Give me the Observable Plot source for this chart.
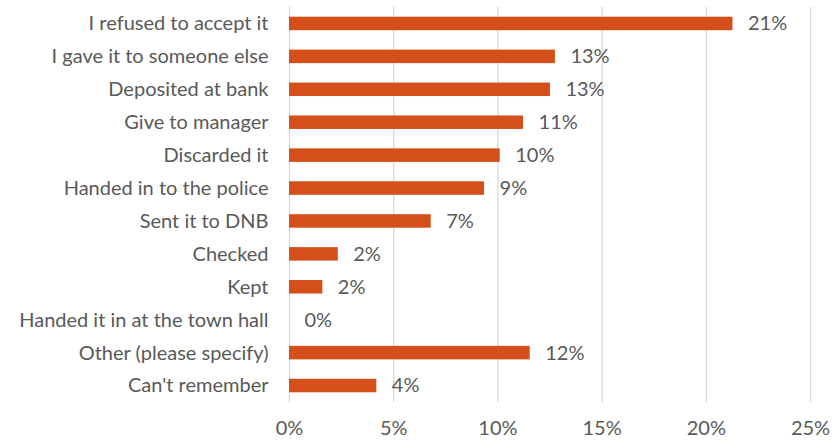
<!DOCTYPE html>
<html>
<head>
<meta charset="utf-8">
<script src="https://cdn.jsdelivr.net/npm/d3@7"></script>
<script src="https://cdn.jsdelivr.net/npm/@observablehq/plot@0.6"></script>
<style>
  html, body { margin: 0; padding: 0; background: #fff; }
</style>
</head>
<body>
<div id="chart"></div>
<script>
// Responses: what people did with the note
const categories = [
  "I refused to accept it",
  "I gave it to someone else",
  "Deposited at bank",
  "Give to manager",
  "Discarded it",
  "Handed in to the police",
  "Sent it to DNB",
  "Checked",
  "Kept",
  "Handed it in at the town hall",
  "Other (please specify)",
  "Can't remember"
];
const shares = [0.2128, 0.1276, 0.1252, 0.1123, 0.1011, 0.0936, 0.0680, 0.0234, 0.0160, 0.0, 0.1155, 0.0419];
const xTicks = [0, 0.05, 0.10, 0.15, 0.20, 0.25];

const data = categories.map((c, i) => ({category: c, share: shares[i]}));
const pct = d3.format(".0%");

const textColor = "#595959";
const barColor = "#d44f1a";
const fontSize = 20;

const chart = Plot.plot({
  width: 833,
  height: 441,
  marginLeft: 289,
  marginRight: 23,
  marginTop: 7,
  marginBottom: 39,
  style: {fontFamily: "Lato", fontSize: fontSize + "px", color: textColor, background: "#fff"},
  x: {domain: [0, 0.25], ticks: xTicks, tickFormat: pct, label: null},
  y: {domain: categories, paddingInner: 0.59, paddingOuter: 0.295, round: false, label: null},
  marks: [
    Plot.gridX(xTicks, {stroke: "#d9d9d9", strokeOpacity: 1, strokeWidth: 1.3}),
    Plot.axisX(xTicks, {tickSize: 0, tickPadding: 18, tickFormat: pct, fontSize, label: null}),
    Plot.axisY({tickSize: 0, tickPadding: 21, fontSize, label: null}),
    Plot.barX(data, {x: "share", y: "category", fill: barColor}),
    Plot.text(data, {
      x: "share", y: "category", text: d => pct(d.share),
      textAnchor: "start", dx: 15, fill: textColor, fontSize
    })
  ]
});
document.getElementById("chart").appendChild(chart);
</script>
</body>
</html>
